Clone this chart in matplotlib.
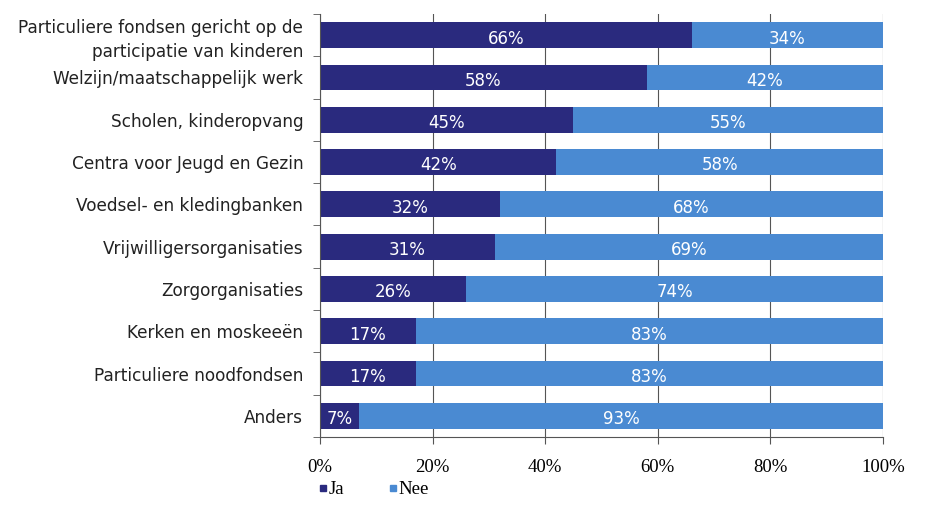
import matplotlib.pyplot as plt
import numpy as np
from matplotlib.lines import Line2D
from matplotlib.ticker import FixedLocator

categories = ['Particuliere fondsen gericht op de\nparticipatie van kinderen',
              'Welzijn/maatschappelijk werk',
              'Scholen, kinderopvang',
              'Centra voor Jeugd en Gezin',
              'Voedsel- en kledingbanken',
              'Vrijwilligersorganisaties',
              'Zorgorganisaties',
              'Kerken en moskeeën',
              'Particuliere noodfondsen',
              'Anders']
ja = [66, 58, 45, 42, 32, 31, 26, 17, 17, 7]
nee = [34, 42, 55, 58, 68, 69, 74, 83, 83, 93]

c_ja = '#2a2a7e'
c_nee = '#4a8ad2'

fig = plt.figure(figsize=(9.39, 5.09), dpi=100)
ax = fig.add_axes([0.3408, 0.1415, 0.5996, 0.831])

y = np.arange(len(categories))
ax.barh(y, ja, height=0.61, color=c_ja, zorder=2)
ax.barh(y, nee, left=ja, height=0.61, color=c_nee, zorder=2)

for i in range(len(categories)):
    ax.text(ja[i] / 2, y[i] + 0.08, '%d%%' % ja[i], color='white', ha='center', va='center',
            fontsize=12, family='DejaVu Sans', zorder=3)
    ax.text(ja[i] + nee[i] / 2, y[i] + 0.08, '%d%%' % nee[i], color='white', ha='center', va='center',
            fontsize=12, family='DejaVu Sans', zorder=3)

ax.set_xlim(0, 100)
ax.set_ylim(len(categories) - 0.5, -0.5)
ax.set_xticks([0, 20, 40, 60, 80, 100])
ax.set_xticklabels(['0%', '20%', '40%', '60%', '80%', '100%'], family='Liberation Serif', fontsize=13.5)
ax.xaxis.grid(True, color='#555555', linewidth=0.8, zorder=0)
ax.set_yticks(y)
ax.set_yticklabels(categories, fontsize=12.2, family='DejaVu Sans', color='#222222', linespacing=1.4)
ax.tick_params(axis='y', length=0, pad=12)
ax.yaxis.set_minor_locator(FixedLocator(np.arange(-0.5, len(categories), 1)))
ax.tick_params(axis='y', which='minor', length=5, color='#555555')
ax.tick_params(axis='x', length=5, color='#555555', pad=11)
for s in ['top', 'right']:
    ax.spines[s].set_visible(False)
ax.spines['left'].set_color('#555555')
ax.spines['bottom'].set_color('#555555')

handles = [Line2D([], [], marker='s', color=c_ja, linestyle='', markersize=5),
           Line2D([], [], marker='s', color=c_nee, linestyle='', markersize=5)]
fig.legend(handles, ['Ja', 'Nee'], loc='lower left', bbox_to_anchor=(0.318, -0.012), ncol=2,
           frameon=False, prop={'family': 'Liberation Serif', 'size': 13.5},
           handletextpad=-0.1, handlelength=0.8, columnspacing=2.2)

fig.savefig('out.png', dpi=100)
